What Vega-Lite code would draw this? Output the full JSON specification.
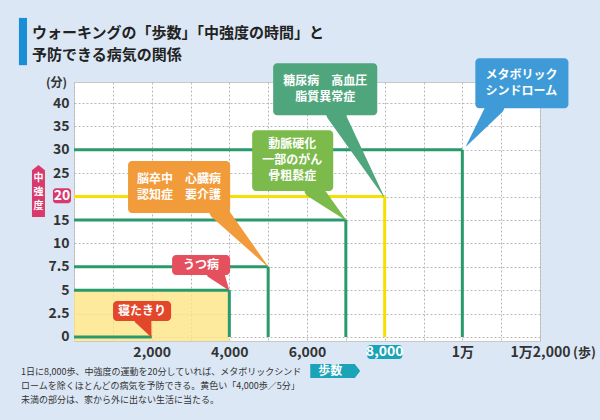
{
  "$schema": "https://vega.github.io/schema/vega-lite/v6.json",
  "width": 466,
  "height": 259,
  "autosize": {"type": "none"},
  "padding": {"left": 74, "top": 82, "right": 60, "bottom": 79},
  "background": "#dbe7f5",
  "config": {
    "font": "Noto Sans CJK JP",
    "view": {"fill": "white", "stroke": "#c9c9c9"}
  },
  "title": {
    "text": ["ウォーキングの「歩数」「中強度の時間」と", "予防できる病気の関係"],
    "anchor": "start",
    "frame": "group",
    "dx": -42,
    "dy": 55,
    "offset": 10,
    "fontSize": 15,
    "fontWeight": "bold",
    "color": "#222222",
    "lineHeight": 22
  },
  "datasets": {
    "thresholds": [
      {"steps": 2000, "minutes": 0},
      {"steps": 4000, "minutes": 5},
      {"steps": 5000, "minutes": 7.5},
      {"steps": 7000, "minutes": 15},
      {"steps": 8000, "minutes": 20},
      {"steps": 10000, "minutes": 30}
    ],
    "callouts": [
      {"topic": "寝たきり", "text": "寝たきり", "x1": 1005, "x2": 2500, "y1": 1.71, "y2": 3.85, "tx": 1753, "ty": 2.78},
      {"topic": "うつ病", "text": "うつ病", "x1": 2526, "x2": 4021, "y1": 6.62, "y2": 8.76, "tx": 3273, "ty": 7.69},
      {"topic": "脳卒中", "text": "脳卒中　心臓病\n認知症　要介護", "x1": 1392, "x2": 4021, "y1": 16.5, "y2": 27.6, "tx": 2706, "ty": 23.8},
      {"topic": "動脈硬化", "text": "動脈硬化\n一部のがん\n骨粗鬆症", "x1": 4588, "x2": 6675, "y1": 21.2, "y2": 34.2, "tx": 5619, "ty": 31.2},
      {"topic": "糖尿病", "text": "糖尿病　高血圧\n脂質異常症", "x1": 5129, "x2": 7809, "y1": 37.4, "y2": 48.5, "tx": 6469, "ty": 44.65},
      {"topic": "メタボ", "text": "メタボリック\nシンドローム", "x1": 10335, "x2": 12732, "y1": 38.9, "y2": 49.6, "tx": 11521, "ty": 46.1}
    ],
    "pointers": [
      {"topic": "寝たきり", "end": "base", "steps": 1778, "minutes": 2.0},
      {"topic": "寝たきり", "end": "tip", "steps": 1990, "minutes": 0},
      {"topic": "うつ病", "end": "base", "steps": 3634, "minutes": 7.0},
      {"topic": "うつ病", "end": "tip", "steps": 3990, "minutes": 5},
      {"topic": "脳卒中", "end": "base", "steps": 3711, "minutes": 17.0},
      {"topic": "脳卒中", "end": "tip", "steps": 5000, "minutes": 7.5},
      {"topic": "動脈硬化", "end": "base", "steps": 6160, "minutes": 21.6},
      {"topic": "動脈硬化", "end": "tip", "steps": 7000, "minutes": 15},
      {"topic": "糖尿病", "end": "base", "steps": 6727, "minutes": 37.8},
      {"topic": "糖尿病", "end": "tip", "steps": 7980, "minutes": 20},
      {"topic": "メタボ", "end": "base", "steps": 10851, "minutes": 39.3},
      {"topic": "メタボ", "end": "tip", "steps": 10100, "minutes": 30.8}
    ],
    "badges": [
      {"text": "20", "x1": -541, "x2": -77, "y1": 18.6, "y2": 21.8, "tx": -309, "ty": 20.1},
      {"text": "8,000", "x1": 7552, "x2": 8454, "y1": -2.35, "y2": -0.86, "tx": 8000, "ty": -1.6}
    ],
    "arrows": [
      {"text": "中\n強\n度", "dir": "up", "steps": -915, "minutes": 21.2, "tx": -915, "ty": 24.0},
      {"text": "歩数", "dir": "right", "steps": 6727, "minutes": -3.64, "tx": 6600, "ty": -3.64}
    ],
    "notes": [
      {"text": "1日に8,000歩、中強度の運動を20分していれば、メタボリックシンド\nロームを除くほとんどの病気を予防できる。黄色い「4,000歩／5分」\n未満の部分は、家から外に出ない生活に当たる。", "steps": -1365, "minutes": -3.3}
    ],
    "titlebar": [
      {"x1": -1418, "x2": -1211, "y1": 48.1, "y2": 58.2}
    ]
  },
  "layer": [
    {
      "data": {"name": "thresholds"},
      "transform": [{"filter": "datum.steps == 4000"}],
      "mark": {"type": "rect", "fill": "#fce583", "fillOpacity": 0.8},
      "encoding": {
        "x": {"field": "steps", "type": "quantitative"},
        "x2": {"datum": 0},
        "y": {"field": "minutes", "type": "quantitative"},
        "y2": {"datum": -0.43}
      }
    },
    {
      "data": {"name": "thresholds"},
      "mark": {"type": "rule", "strokeWidth": 3},
      "encoding": {
        "x": {
          "field": "steps",
          "type": "quantitative",
          "scale": {"domain": [0, 12000], "nice": false, "zero": false},
          "axis": {
            "values": [0, 1000, 2000, 3000, 4000, 5000, 6000, 7000, 8000, 9000, 10000, 11000, 12000],
            "tickCount": 40,
            "grid": true,
            "gridDash": [2, 2],
            "gridColor": "#b8b8b8",
            "domain": false,
            "ticks": false,
            "labelExpr": "datum.value == 10000 ? '1万' : datum.value == 12000 ? '1万2,000' : (datum.value == 8000 || datum.value == 0 || datum.value % 2000 != 0) ? '' : format(datum.value, ',')",
            "labelFontSize": 14,
            "labelFontWeight": "bold",
            "labelColor": "#333333",
            "labelPadding": 4,
            "labelOverlap": false,
            "labelFlush": false,
            "title": "(歩)",
            "titleX": 510,
            "titleY": 11,
            "titleAlign": "center",
            "titleBaseline": "middle",
            "titleFontSize": 13,
            "titleFontWeight": "bold",
            "titleColor": "#333333"
          }
        },
        "x2": {"datum": 0},
        "y": {
          "field": "minutes",
          "type": "quantitative",
          "scale": {"domain": [-0.43, 10, 44.5], "range": [259, 161.4, 0], "nice": false, "zero": false},
          "axis": {
            "values": [0, 2.5, 5, 7.5, 10, 15, 20, 25, 30, 35, 40],
            "tickCount": 40,
            "grid": true,
            "gridDash": [2, 2],
            "gridColor": "#b8b8b8",
            "domain": false,
            "ticks": false,
            "labelExpr": "datum.value == 20 ? '' : '' + datum.value",
            "labelFontSize": 14,
            "labelFontWeight": "bold",
            "labelColor": "#333333",
            "labelPadding": 5,
            "labelOverlap": false,
            "labelFlush": false,
            "title": "(分)",
            "titleAngle": 0,
            "titleX": -18,
            "titleY": 0,
            "titleAlign": "center",
            "titleBaseline": "middle",
            "titleFontSize": 12,
            "titleFontWeight": "bold",
            "titleColor": "#333333"
          }
        },
        "color": {"condition": {"test": "datum.minutes == 20", "value": "#f7e000"}, "value": "#2a9a6c"}
      }
    },
    {
      "data": {"name": "thresholds"},
      "mark": {"type": "rule", "strokeWidth": 3},
      "encoding": {
        "x": {"field": "steps", "type": "quantitative"},
        "y": {"field": "minutes", "type": "quantitative"},
        "y2": {"datum": 0},
        "color": {"condition": {"test": "datum.minutes == 20", "value": "#f7e000"}, "value": "#2a9a6c"}
      }
    },
    {
      "data": {"name": "pointers"},
      "mark": {"type": "trail"},
      "encoding": {
        "x": {"field": "steps", "type": "quantitative"},
        "y": {"field": "minutes", "type": "quantitative"},
        "order": {"field": "end", "type": "ordinal"},
        "detail": {"field": "topic", "type": "nominal"},
        "size": {"field": "end", "type": "nominal", "scale": {"domain": ["base", "tip"], "range": [18, 0.5]}, "legend": null},
        "color": {
          "field": "topic",
          "type": "nominal",
          "scale": {
            "domain": ["寝たきり", "うつ病", "脳卒中", "動脈硬化", "糖尿病", "メタボ"],
            "range": ["#e2472c", "#e4505e", "#f29b3a", "#7cba4c", "#4fa57c", "#3e9bd8"]
          },
          "legend": null
        }
      }
    },
    {
      "data": {"name": "callouts"},
      "mark": {"type": "rect", "cornerRadius": 4},
      "encoding": {
        "x": {"field": "x1", "type": "quantitative"},
        "x2": {"field": "x2"},
        "y": {"field": "y1", "type": "quantitative"},
        "y2": {"field": "y2"},
        "color": {"field": "topic", "type": "nominal", "legend": null}
      }
    },
    {
      "data": {"name": "callouts"},
      "mark": {"type": "text", "fill": "white", "fontSize": 12, "fontWeight": "bold", "lineBreak": "\n", "lineHeight": 16, "align": "center", "baseline": "middle"},
      "encoding": {
        "x": {"field": "tx", "type": "quantitative"},
        "y": {"field": "ty", "type": "quantitative"},
        "text": {"field": "text", "type": "nominal"}
      }
    },
    {
      "data": {"name": "badges"},
      "mark": {"type": "rect", "cornerRadius": 3},
      "encoding": {
        "x": {"field": "x1", "type": "quantitative"},
        "x2": {"field": "x2"},
        "y": {"field": "y1", "type": "quantitative"},
        "y2": {"field": "y2"},
        "fill": {"condition": {"test": "datum.text == '20'", "value": "#d93a6e"}, "value": "#1ba3b8"}
      }
    },
    {
      "data": {"name": "badges"},
      "mark": {"type": "text", "fill": "white", "fontSize": 14, "fontWeight": "bold", "align": "center", "baseline": "middle"},
      "encoding": {
        "x": {"field": "tx", "type": "quantitative"},
        "y": {"field": "ty", "type": "quantitative"},
        "text": {"field": "text", "type": "nominal"}
      }
    },
    {
      "data": {"name": "arrows"},
      "transform": [{"filter": "datum.dir == 'up'"}],
      "mark": {"type": "point", "filled": true, "opacity": 1, "color": "#d93a6e", "size": 2704, "shape": "M-0.25,1 L-0.25,-0.8 L0,-1 L0.25,-0.8 L0.25,1 Z"},
      "encoding": {
        "x": {"field": "steps", "type": "quantitative"},
        "y": {"field": "minutes", "type": "quantitative"}
      }
    },
    {
      "data": {"name": "arrows"},
      "transform": [{"filter": "datum.dir == 'right'"}],
      "mark": {"type": "point", "filled": true, "opacity": 1, "color": "#1ba3b8", "size": 2500, "shape": "M-1,-0.28 L0.78,-0.28 L1,0 L0.78,0.28 L-1,0.28 Z"},
      "encoding": {
        "x": {"field": "steps", "type": "quantitative"},
        "y": {"field": "minutes", "type": "quantitative"}
      }
    },
    {
      "data": {"name": "arrows"},
      "transform": [{"filter": "datum.dir == 'up'"}],
      "mark": {"type": "text", "fill": "white", "fontSize": 10, "fontWeight": "bold", "lineBreak": "\n", "lineHeight": 14, "align": "center", "baseline": "middle"},
      "encoding": {
        "x": {"field": "tx", "type": "quantitative"},
        "y": {"field": "ty", "type": "quantitative"},
        "text": {"field": "text", "type": "nominal"}
      }
    },
    {
      "data": {"name": "arrows"},
      "transform": [{"filter": "datum.dir == 'right'"}],
      "mark": {"type": "text", "fill": "white", "fontSize": 12, "fontWeight": "bold", "align": "center", "baseline": "middle"},
      "encoding": {
        "x": {"field": "tx", "type": "quantitative"},
        "y": {"field": "ty", "type": "quantitative"},
        "text": {"field": "text", "type": "nominal"}
      }
    },
    {
      "data": {"name": "notes"},
      "mark": {"type": "text", "fill": "#333333", "fontSize": 9, "lineBreak": "\n", "lineHeight": 14, "align": "left", "baseline": "top"},
      "encoding": {
        "x": {"field": "steps", "type": "quantitative"},
        "y": {"field": "minutes", "type": "quantitative"},
        "text": {"field": "text", "type": "nominal"}
      }
    },
    {
      "data": {"name": "titlebar"},
      "mark": {"type": "rect", "fill": "#1a8fd6"},
      "encoding": {
        "x": {"field": "x1", "type": "quantitative"},
        "x2": {"field": "x2"},
        "y": {"field": "y1", "type": "quantitative"},
        "y2": {"field": "y2"}
      }
    }
  ]
}
